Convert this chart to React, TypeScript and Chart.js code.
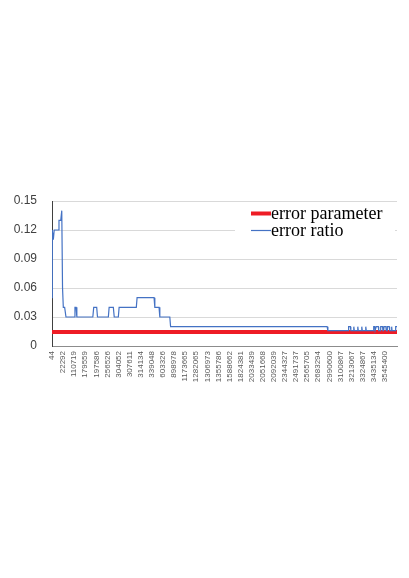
import React, { useEffect, useRef } from "react";
import { Chart, registerables } from "chart.js";

Chart.register(...registerables);

const xLabels = [
  "44", "22292", "110719", "179559", "197586", "256526", "304052", "307611",
  "314134", "339048", "603326", "898978", "1173665", "1282065", "1306973",
  "1355786", "1588662", "1824381", "2033439", "2051668", "2092039", "2344327",
  "2491737", "2565705", "2683294", "2990600", "3100867", "3213067", "3324867",
  "3435134", "3545400",
];

const xMax = 31.1;

const seriesNames = ["error parameter", "error ratio"];

const paramX = [0, 31.1];
const paramY = [0.0145, 0.0145];

const ratioX = [
  0, 0.03, 0.12, 0.2, 0.57, 0.63, 0.79, 0.88, 0.95, 1.02, 1.14, 1.26,
  2.0, 2.07, 2.17, 2.24, 3.68, 3.76, 4.03, 4.1, 5.08, 5.15, 5.53, 5.61,
  5.98, 6.05, 7.6, 7.67, 9.2, 9.27, 9.65, 9.72, 10.62, 10.69, 24.8, 24.87,
  26.7, 26.74, 26.9, 26.94, 27.16, 27.19, 27.22, 27.25, 27.52, 27.55, 27.58, 27.61,
  27.88, 27.91, 27.94, 27.97, 28.24, 28.27, 28.3, 28.33,
  28.97, 29.0, 29.1, 29.13, 29.2, 29.23, 29.42, 29.45,
  29.6, 29.63, 29.8, 29.83, 29.9, 29.93, 30.1, 30.13, 30.2, 30.23, 30.4, 30.44,
  30.59, 30.62, 30.65, 30.95, 30.98, 31.1,
];
const ratioY = [
  0.05, 0.12, 0.11, 0.12, 0.12, 0.13, 0.13, 0.14, 0.06, 0.04, 0.04, 0.03,
  0.03, 0.04, 0.04, 0.03, 0.03, 0.04, 0.04, 0.03, 0.03, 0.04, 0.04, 0.03,
  0.03, 0.04, 0.04, 0.05, 0.05, 0.04, 0.04, 0.03, 0.03, 0.02, 0.02, 0.016,
  0.016, 0.02, 0.02, 0.016, 0.016, 0.02, 0.02, 0.016, 0.016, 0.02, 0.02, 0.016,
  0.016, 0.02, 0.02, 0.016, 0.016, 0.02, 0.02, 0.016,
  0.016, 0.02, 0.02, 0.016, 0.016, 0.02, 0.02, 0.016,
  0.016, 0.02, 0.02, 0.016, 0.016, 0.02, 0.02, 0.016, 0.016, 0.02, 0.02, 0.016,
  0.016, 0.02, 0.016, 0.016, 0.02, 0.02,
];

const RED = "#ee1c25";
const BLUE = "#4472c4";

const legendPlugin = {
  id: "insideLegend",
  afterDraw(chart: any) {
    const { ctx, chartArea } = chart;
    const right = chartArea.right;
    const top = chartArea.top;
    ctx.save();
    ctx.fillStyle = "#ffffff";
    ctx.fillRect(right - 162, top + 2, 160, 40);
    const items = [
      { label: seriesNames[0], color: RED, width: 4, y: top + 12.5 },
      { label: seriesNames[1], color: BLUE, width: 1.2, y: top + 29.5 },
    ];
    ctx.font = '18px "Liberation Serif", "Times New Roman", serif';
    ctx.textBaseline = "middle";
    ctx.textAlign = "left";
    for (const it of items) {
      ctx.strokeStyle = it.color;
      ctx.lineWidth = it.width;
      ctx.beginPath();
      ctx.moveTo(right - 146, it.y);
      ctx.lineTo(right - 126, it.y);
      ctx.stroke();
      ctx.fillStyle = "#000000";
      ctx.fillText(it.label, right - 126, it.y + 1);
    }
    ctx.restore();
  },
};

export default function App() {
  const ref = useRef<HTMLCanvasElement>(null);
  useEffect(() => {
    if (!ref.current) return;
    const chart = new Chart(ref.current, {
      type: "line",
      data: {
        datasets: [
          {
            label: seriesNames[0],
            data: paramX.map((x, i) => ({ x, y: paramY[i] })),
            borderColor: RED,
            backgroundColor: RED,
            borderWidth: 4,
            pointRadius: 0,
            order: 1,
          },
          {
            label: seriesNames[1],
            data: ratioX.map((x, i) => ({ x, y: ratioY[i] })),
            borderColor: BLUE,
            backgroundColor: BLUE,
            borderWidth: 1.2,
            pointRadius: 0,
            order: 0,
          },
        ],
      },
      options: {
        animation: false,
        responsive: false,
        layout: { padding: { left: 0, top: 201, right: 12, bottom: 182 } },
        plugins: { legend: { display: false }, tooltip: { enabled: false } },
        scales: {
          x: {
            type: "linear",
            min: 0,
            max: xMax,
            afterBuildTicks: (scale: any) => {
              scale.ticks = xLabels.map((_, i) => ({ value: i }));
            },
            afterFit: (scale: any) => {
              scale.height = 50;
            },
            grid: { display: false, drawTicks: false },
            border: { display: true, color: "#8c8c8c", width: 1 },
            ticks: {
              autoSkip: false,
              maxRotation: 90,
              minRotation: 90,
              padding: 5,
              color: "#595959",
              font: { family: '"Liberation Sans", Arial, sans-serif', size: 8 },
              callback: (_v: any, i: number) => xLabels[i],
            },
          },
          y: {
            min: 0,
            max: 0.15,
            afterFit: (scale: any) => {
              scale.width = 52;
            },
            grid: { color: "#d9d9d9", drawTicks: false },
            border: { display: true, color: "#404040", width: 1 },
            ticks: {
              stepSize: 0.03,
              padding: 15,
              color: "#404040",
              font: { family: '"Liberation Sans", Arial, sans-serif', size: 12 },
              callback: (v: any) => String(Number(v.toFixed(2))),
            },
          },
        },
      },
      plugins: [legendPlugin],
    });
    return () => chart.destroy();
  }, []);
  return (
    <div style={{ position: "fixed", left: 0, top: 0, width: 409, height: 578, background: "#fff" }}>
      <canvas ref={ref} width={409} height={578} />
    </div>
  );
}
